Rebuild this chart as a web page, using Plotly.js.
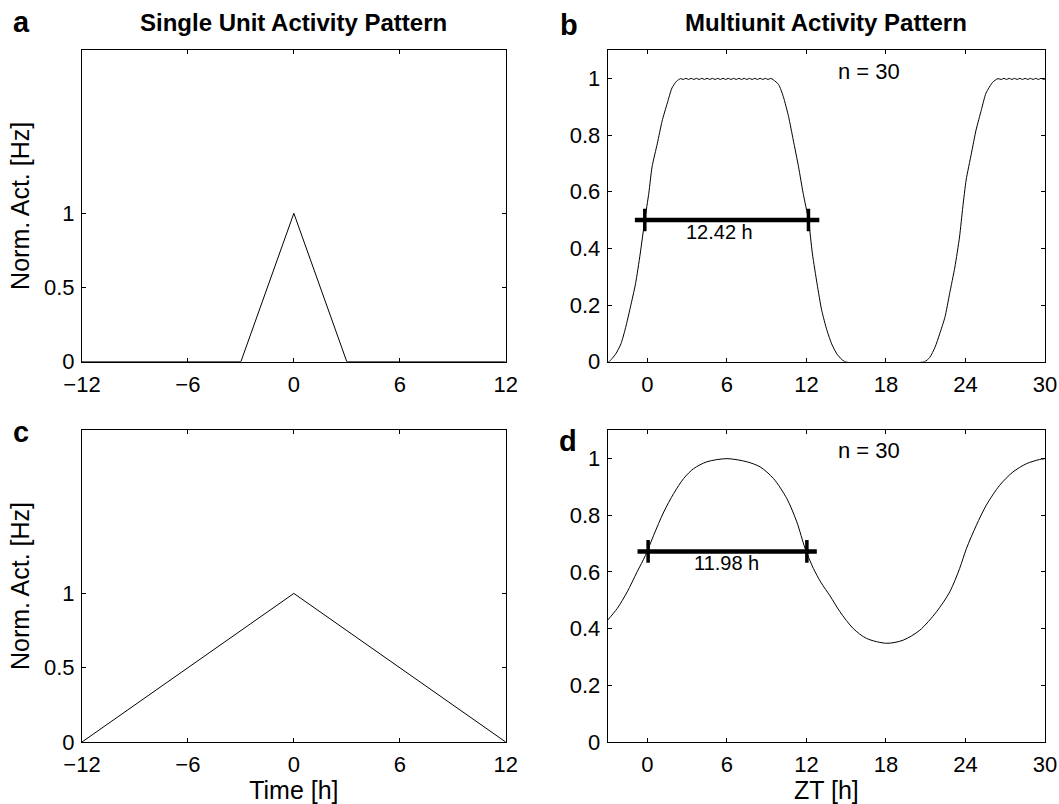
<!DOCTYPE html>
<html>
<head>
<meta charset="utf-8">
<script src="https://cdn.plot.ly/plotly-3.0.1.min.js"></script>
<style>html,body{margin:0;padding:0;background:#fff;}#chart{width:1059px;height:804px;}</style>
</head>
<body>
<div id="chart"></div>
<script>
// ---- Data ----
// Panel a: single unit activity (narrow triangle)
const aX = [-12, -3, 0, 3, 12];
const aY = [0, 0, 1, 0, 0];
// Panel c: single unit activity (wide triangle)
const cX = [-12, 0, 12];
const cY = [0, 1, 0];
// Panel b: multiunit activity pattern (n = 30)
const bX = [-3, -2.9, -2.4, -2.0, -1.65, -1.3, -0.9, -0.55, -0.2, 0.1, 0.35, 0.75, 1.1, 1.5, 1.85, 2.2, 2.5,
  2.7, 2.9, 3.1, 3.3, 3.5, 3.7, 3.9, 4.1, 4.3, 4.5, 4.7, 4.9, 5.1, 5.3, 5.5, 5.7, 5.9, 6.1, 6.3, 6.5, 6.7, 6.9,
  7.1, 7.3, 7.5, 7.7, 7.9, 8.1, 8.3, 8.5, 8.7, 8.9, 9.1, 9.3, 9.5,
  9.9, 10.25, 10.65, 11.0, 11.4, 11.75, 12.15, 12.45, 12.8, 13.15, 13.55, 13.9, 14.3, 14.9,
  20.9, 21.3, 21.7, 22.05, 22.45, 22.8, 23.2, 23.55, 23.8, 24.05, 24.45, 24.8, 25.2, 25.55, 26.05, 26.45,
  26.7, 26.9, 27.1, 27.3, 27.5, 27.7, 27.9, 28.1, 28.3, 28.5, 28.7, 28.9, 29.1, 29.3, 29.5, 29.7, 29.9, 30];
const bY = [0, 0, 0.027, 0.063, 0.12, 0.19, 0.275, 0.38, 0.5, 0.594, 0.688, 0.771, 0.848, 0.913, 0.966, 0.99, 0.999,
  0.996, 1.0, 0.996, 1.0, 0.996, 1.0, 0.996, 1.0, 0.996, 1.0, 0.996, 1.0, 0.996, 1.0, 0.996, 1.0, 0.996, 1.0, 0.996, 1.0, 0.996, 1.0,
  0.996, 1.0, 0.996, 1.0, 0.996, 1.0, 0.996, 1.0, 0.996, 1.0, 0.996, 1.0, 0.995,
  0.978, 0.936, 0.865, 0.783, 0.688, 0.594, 0.5, 0.38, 0.275, 0.181, 0.11, 0.063, 0.027, 0,
  0, 0.015, 0.051, 0.098, 0.157, 0.24, 0.334, 0.44, 0.547, 0.641, 0.736, 0.818, 0.889, 0.948, 0.986, 0.999,
  0.996, 1.0, 0.996, 1.0, 0.996, 1.0, 0.996, 1.0, 0.996, 1.0, 0.996, 1.0, 0.996, 1.0, 0.996, 1.0, 0.996, 0.998];
// Panel d: multiunit activity pattern (n = 30)
const dX = [-3, -2.28, -1.53, -0.78, -0.15, 0.47, 1.23, 1.98, 2.73, 3.49, 4.49, 6.0, 7.5, 8.5, 9.51, 10.52, 11.27,
  11.9, 12.52, 13.1, 13.78, 14.53, 15.53, 16.54, 18.05, 19.3, 20.55, 21.81, 22.81, 23.56, 24.07, 24.82, 25.57,
  26.58, 27.58, 28.59, 29.59, 30];
const dY = [0.43, 0.471, 0.529, 0.6, 0.658, 0.729, 0.811, 0.876, 0.929, 0.964, 0.988, 0.999, 0.988, 0.97, 0.929, 0.858, 0.776,
  0.682, 0.612, 0.562, 0.515, 0.459, 0.4, 0.365, 0.348, 0.359, 0.394, 0.459, 0.529, 0.612, 0.682, 0.764, 0.835,
  0.905, 0.952, 0.981, 0.996, 0.999];
// Half-activity bars (width markers)
const bBarX = [-0.95, 12.97];   const bBarLevel = 0.5;   const bBarTicks = [-0.2, 12.15];  const bBarLabel = '12.42 h';
const dBarX = [-0.75, 12.78];   const dBarLevel = 0.672; const dBarTicks = [0.05, 12.03];  const dBarLabel = '11.98 h';
const tickHalf = 0.04;
// Axes ticks
const singleXTicks = [-12, -6, 0, 6, 12];
const singleYTicks = [0, 0.5, 1];
const multiXTicks = [0, 6, 12, 18, 24, 30];
const multiYTicks = [0, 0.2, 0.4, 0.6, 0.8, 1];
const nLabel = 'n = 30';

// ---- Build ----
const FONT = 'Liberation Sans, Arial, sans-serif';
const W = 1059, H = 804;
const line = {color: '#000', width: 1};

function tickTraces(xs, level, xa, ya) {
  return xs.map(x => ({x: [x, x], y: [level - tickHalf, level + tickHalf], xaxis: xa, yaxis: ya,
    mode: 'lines', line: {color: '#000', width: 3.5}, hoverinfo: 'skip', showlegend: false}));
}

const traces = [
  {x: aX, y: aY, xaxis: 'x', yaxis: 'y', mode: 'lines', line: line, showlegend: false},
  {x: bX, y: bY, xaxis: 'x2', yaxis: 'y2', mode: 'lines', line: {color: '#000', width: 1, shape: 'spline', smoothing: 0.6}, showlegend: false},
  {x: cX, y: cY, xaxis: 'x3', yaxis: 'y3', mode: 'lines', line: line, showlegend: false},
  {x: dX, y: dY, xaxis: 'x4', yaxis: 'y4', mode: 'lines', line: {color: '#000', width: 1, shape: 'spline', smoothing: 0.8}, showlegend: false},
  {x: bBarX, y: [bBarLevel, bBarLevel], xaxis: 'x2', yaxis: 'y2', mode: 'lines', line: {color: '#000', width: 4.5}, showlegend: false},
  {x: dBarX, y: [dBarLevel, dBarLevel], xaxis: 'x4', yaxis: 'y4', mode: 'lines', line: {color: '#000', width: 4.5}, showlegend: false}
].concat(tickTraces(bBarTicks, bBarLevel, 'x2', 'y2'), tickTraces(dBarTicks, dBarLevel, 'x4', 'y4'));

const px = v => v / W, py = v => 1 - v / H;
const colL = [px(82), px(505.7)], colR = [px(607.7), px(1045)];
const rowT = [py(361.7), py(50)], rowB = [py(742), py(430)];

function ax(extra) {
  return Object.assign({
    showline: true, linecolor: '#000', linewidth: 1, mirror: 'ticks',
    ticks: 'inside', ticklen: 4, tickwidth: 1, tickcolor: '#000',
    showgrid: false, zeroline: false, fixedrange: true,
    tickfont: {family: FONT, size: 22, color: '#000'}, tickmode: 'array'
  }, extra);
}
const xax = extra => ax(Object.assign({ticklabelstandoff: 3}, extra));
const yax = extra => ax(Object.assign({ticklabelstandoff: 2}, extra));
const ytitle = {text: 'Norm. Act. [Hz]', font: {family: FONT, size: 25, color: '#000'}, standoff: 7};

const layout = {
  width: W, height: H, margin: {l: 0, r: 0, t: 0, b: 0},
  paper_bgcolor: '#fff', plot_bgcolor: '#fff', showlegend: false,
  font: {family: FONT, color: '#000'},
  xaxis:  xax({domain: colL, range: [-12, 12], tickvals: singleXTicks, anchor: 'y'}),
  yaxis:  yax({domain: rowT, range: [0, 2.1], tickvals: singleYTicks, anchor: 'x', title: ytitle}),
  xaxis2: xax({domain: colR, range: [-3, 30], tickvals: multiXTicks, anchor: 'y2'}),
  yaxis2: yax({domain: rowT, range: [0, 1.1], tickvals: multiYTicks, anchor: 'x2'}),
  xaxis3: xax({domain: colL, range: [-12, 12], tickvals: singleXTicks, anchor: 'y3',
    title: {text: 'Time [h]', font: {family: FONT, size: 25, color: '#000'}, standoff: 3}}),
  yaxis3: yax({domain: rowB, range: [0, 2.1], tickvals: singleYTicks, anchor: 'x3', title: ytitle}),
  xaxis4: xax({domain: colR, range: [-3, 30], tickvals: multiXTicks, anchor: 'y4',
    title: {text: 'ZT [h]', font: {family: FONT, size: 25, color: '#000'}, standoff: 3}}),
  yaxis4: yax({domain: rowB, range: [0, 1.1], tickvals: multiYTicks, anchor: 'x4'}),
  annotations: [
    {text: '<b>a</b>', xref: 'paper', yref: 'paper', x: px(21), y: py(22), showarrow: false, xanchor: 'center', yanchor: 'middle', font: {family: FONT, size: 29}},
    {text: '<b>b</b>', xref: 'paper', yref: 'paper', x: px(569), y: py(25), showarrow: false, xanchor: 'center', yanchor: 'middle', font: {family: FONT, size: 29}},
    {text: '<b>c</b>', xref: 'paper', yref: 'paper', x: px(21), y: py(432), showarrow: false, xanchor: 'center', yanchor: 'middle', font: {family: FONT, size: 29}},
    {text: '<b>d</b>', xref: 'paper', yref: 'paper', x: px(568), y: py(441), showarrow: false, xanchor: 'center', yanchor: 'middle', font: {family: FONT, size: 29}},
    {text: '<b>Single Unit Activity Pattern</b>', xref: 'paper', yref: 'paper', x: (colL[0] + colL[1]) / 2, y: py(23), showarrow: false, xanchor: 'center', yanchor: 'middle', font: {family: FONT, size: 24}},
    {text: '<b>Multiunit Activity Pattern</b>', xref: 'paper', yref: 'paper', x: (colR[0] + colR[1]) / 2, y: py(23), showarrow: false, xanchor: 'center', yanchor: 'middle', font: {family: FONT, size: 24}},
    {text: nLabel, xref: 'x2', yref: 'y2', x: 16.7, y: 1.025, showarrow: false, xanchor: 'center', yanchor: 'middle', font: {family: FONT, size: 22}},
    {text: nLabel, xref: 'x4', yref: 'y4', x: 16.7, y: 1.028, showarrow: false, xanchor: 'center', yanchor: 'middle', font: {family: FONT, size: 22}},
    {text: bBarLabel, xref: 'x2', yref: 'y2', x: 5.4, y: 0.458, showarrow: false, xanchor: 'center', yanchor: 'middle', font: {family: FONT, size: 20}},
    {text: dBarLabel, xref: 'x4', yref: 'y4', x: 6.0, y: 0.63, showarrow: false, xanchor: 'center', yanchor: 'middle', font: {family: FONT, size: 20}}
  ]
};

Plotly.newPlot('chart', traces, layout, {staticPlot: true, displayModeBar: false});
</script>
</body>
</html>
